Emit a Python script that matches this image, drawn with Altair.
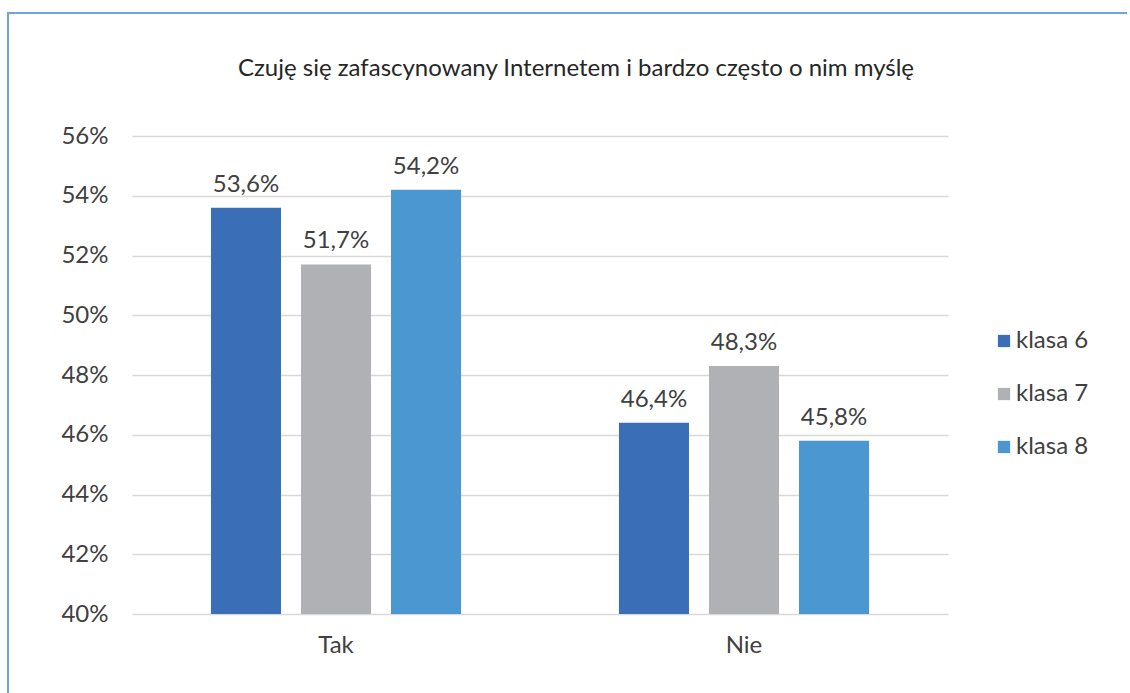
import altair as alt
import pandas as pd

categories = ["Tak", "Nie"]
series = ["klasa 6", "klasa 7", "klasa 8"]
values = {
    "klasa 6": [53.6, 46.4],
    "klasa 7": [51.7, 48.3],
    "klasa 8": [54.2, 45.8],
}
colors = ["#3A6FB7", "#B0B1B5", "#4A97D2"]
title_text = "Czuję się zafascynowany Internetem i bardzo często o nim myślę"

rows = []
for s in series:
    for c, v in zip(categories, values[s]):
        rows.append({"cat": c, "ser": s, "val": v / 100.0,
                     "lab": f"{v:.1f}%".replace(".", ",")})
df = pd.DataFrame(rows)

W, H = 816, 478
FONT = "Lato"
TXT = "#404040"
FS = 24

x_enc = alt.X("cat:N", sort=categories, title=None,
              scale=alt.Scale(paddingInner=0.387, paddingOuter=0.1935),
              axis=alt.Axis(labelAngle=0, labelFontSize=FS, labelFont=FONT,
                            labelColor=TXT, ticks=False, domain=False,
                            labelPadding=19, grid=False))
xoff = alt.XOffset("ser:N", sort=series,
                   scale=alt.Scale(paddingInner=0.222, paddingOuter=0))
y_enc = alt.Y("val:Q", title=None,
              scale=alt.Scale(domain=[0.40, 0.56], zero=False, nice=False),
              axis=alt.Axis(format=".0%", values=[0.40, 0.42, 0.44, 0.46, 0.48, 0.50, 0.52, 0.54, 0.56],
                            labelFontSize=FS, labelFont=FONT, labelColor=TXT,
                            ticks=False, domain=False, labelPadding=24,
                            gridColor="#D9D9D9", gridWidth=1.5))

bars = alt.Chart(df).mark_bar(clip=True).encode(
    x=x_enc, xOffset=xoff, y=y_enc,
    color=alt.Color("ser:N", sort=series, title=None,
                    scale=alt.Scale(domain=series, range=colors),
                    legend=alt.Legend(orient="none", legendX=860, legendY=193,
                                      labelFontSize=FS, labelFont=FONT, labelColor=TXT,
                                      symbolType="square", symbolSize=150,
                                      symbolStrokeWidth=0, rowPadding=29,
                                      labelOffset=0)),
)

labels = alt.Chart(df).mark_text(baseline="bottom", dy=-11, fontSize=FS,
                                 font=FONT, color=TXT).encode(
    x=x_enc, xOffset=xoff, y=y_enc, text="lab:N")

border = pd.DataFrame({"d": [0]})
top_line = alt.Chart(border).mark_rule(color="#6FA6DA", strokeWidth=2).encode(
    x=alt.value(-124), x2=alt.value(995), y=alt.value(-123))
left_line = alt.Chart(border).mark_rule(color="#6FA6DA", strokeWidth=2).encode(
    x=alt.value(-124), y=alt.value(-124), y2=alt.value(557))

chart = alt.layer(top_line, left_line, bars, labels).properties(
    width=W, height=H,
    title=alt.TitleParams(title_text, fontSize=FS, font=FONT, color="#262626",
                          fontWeight="normal", anchor="middle", dx=36,
                          baseline="middle", offset=-82),
    autosize=alt.AutoSizeParams(type="none"),
    padding={"left": 132, "top": 136, "right": 182, "bottom": 79},
).configure(background="white", view=alt.ViewConfig(strokeWidth=0, stroke="transparent"))

chart.save("out.html", embed_options={"renderer": "svg", "actions": False})
